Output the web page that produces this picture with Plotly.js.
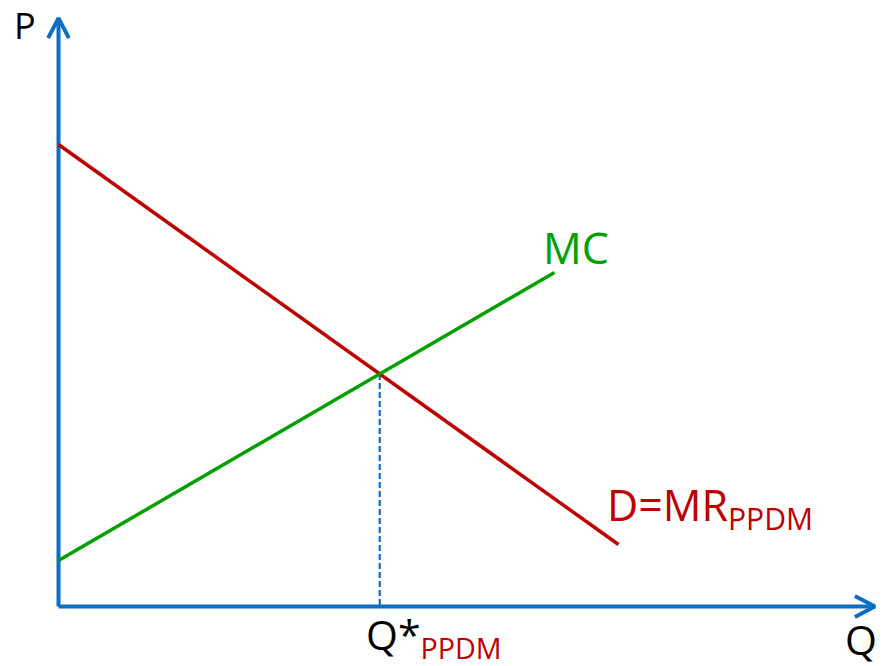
<!DOCTYPE html>
<html>
<head>
<meta charset="utf-8">
<script src="https://cdn.plot.ly/plotly-3.0.1.min.js"></script>
<style>html,body{margin:0;padding:0;background:#fff;}#chart{width:882px;height:666px;}</style>
</head>
<body>
<div id="chart"></div>
<script>
// ---- data (economic units) ----
const demandQ = [0, 14];
const demandP = [11.55, 1.55];
const mcQ = [0, 12.4];
const mcP = [1.15, 8.35];
const axisMaxQ = 20.41;
const axisMaxP = 14.71;
const labelP = "P";
const labelQ = "Q";
const labelMC = "MC";
const labelD = "D=MR<sub>PPDM</sub>";
const labelQstar = "Q*<sub><span style='color:#C00000'>PPDM</span></sub>";

// ---- styles ----
const BLUE = "#0A6FC4";
const RED = "#C00000";
const GREEN = "#00A000";
const FONT = "Open Sans, Noto Sans, sans-serif";

// intersection of the two lines
const sd = (demandP[1] - demandP[0]) / (demandQ[1] - demandQ[0]);
const sm = (mcP[1] - mcP[0]) / (mcQ[1] - mcQ[0]);
const qStar = (mcP[0] - demandP[0]) / (sd - sm);
const pStar = demandP[0] + sd * qStar;

const headLen = 0.5, headHalf = 0.26;

const traces = [
  {x: [0, axisMaxQ], y: [0, 0], mode: "lines", line: {color: BLUE, width: 4}},
  {x: [0, 0], y: [0, axisMaxP], mode: "lines", line: {color: BLUE, width: 4}},
  {x: [axisMaxQ - headLen, axisMaxQ, axisMaxQ - headLen], y: [headHalf, 0, -headHalf],
   mode: "lines", line: {color: BLUE, width: 4}},
  {x: [-headHalf, 0, headHalf], y: [axisMaxP - headLen, axisMaxP, axisMaxP - headLen],
   mode: "lines", line: {color: BLUE, width: 4}},
  {x: [qStar, qStar], y: [pStar, 0], mode: "lines", line: {color: BLUE, width: 2.2, dash: "6px,3px"}},
  {x: demandQ, y: demandP, mode: "lines", line: {color: RED, width: 3.5}},
  {x: mcQ, y: mcP, mode: "lines", line: {color: GREEN, width: 3.5}}
];

const layout = {
  width: 882, height: 666,
  margin: {l: 0, r: 0, t: 0, b: 0, pad: 0},
  paper_bgcolor: "#fff", plot_bgcolor: "#fff",
  showlegend: false,
  xaxis: {range: [-1.4625, 20.5875], visible: false, fixedrange: true},
  yaxis: {range: [-1.4875, 15.1625], visible: false, fixedrange: true},
  annotations: [
    {x: -1.16, y: 13.875, xref: "x", yref: "y", xanchor: "left", yanchor: "bottom",
     text: labelP, showarrow: false, font: {family: FONT, size: 36, color: "#000"}},
    {x: 19.62, y: -0.06, xref: "x", yref: "y", xanchor: "left", yanchor: "top",
     text: labelQ, showarrow: false, font: {family: FONT, size: 41, color: "#000"}},
    {x: 12.06, y: 9.76, xref: "x", yref: "y", xanchor: "left", yanchor: "top",
     text: labelMC, showarrow: false, font: {family: FONT, size: 43, color: GREEN}},
    {x: 13.66, y: 3.34, xref: "x", yref: "y", xanchor: "left", yanchor: "top",
     text: labelD, showarrow: false, font: {family: FONT, size: 43, color: RED}},
    {x: 7.625, y: 0.06, xref: "x", yref: "y", xanchor: "left", yanchor: "top",
     text: labelQstar, showarrow: false, font: {family: FONT, size: 41, color: "#000"}}
  ]
};

Plotly.newPlot("chart", traces, layout, {displayModeBar: false, staticPlot: true});
</script>
</body>
</html>
